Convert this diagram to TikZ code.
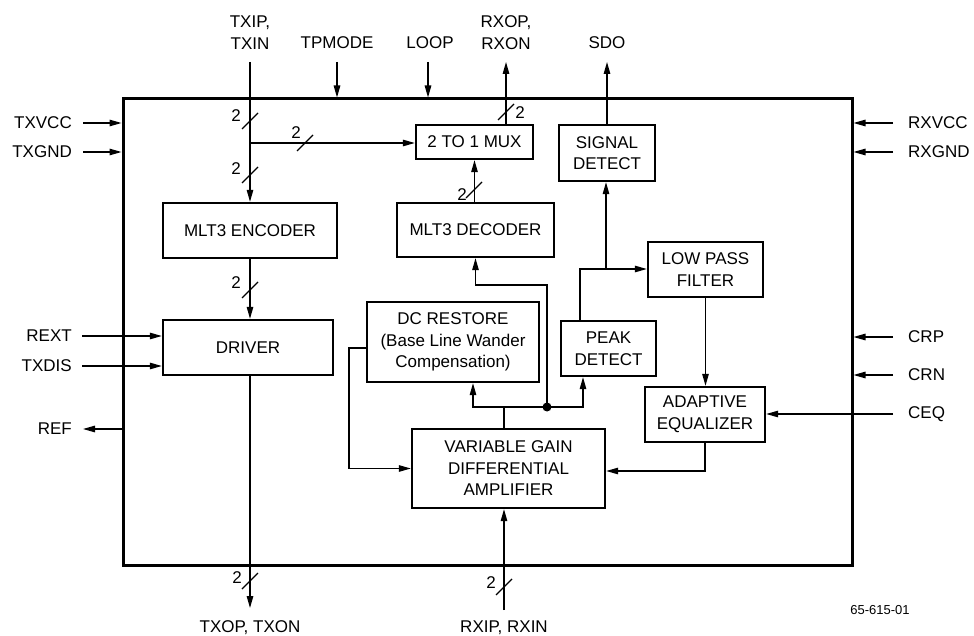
\documentclass[tikz,border=0pt]{standalone}
\usepackage{fontspec}
\setmainfont{Liberation Sans}
\usetikzlibrary{arrows.meta}
\begin{document}
\begin{tikzpicture}[x=1pt,y=-1pt,
  every node/.style={font=\fontsize{17}{21.5}\selectfont, inner sep=0pt, align=center},
  blk/.style n args={2}{draw, line width=2.4pt, minimum width=#1pt, minimum height=#2pt},
  conn/.style={line width=1.3pt},
  arr/.style={conn, -{Triangle[length=12pt,width=6.5pt]}},
  bus/.pic={\draw[line width=1.3pt] (-8,8) -- (8,-8);}
]
\useasboundingbox (0,0) rectangle (974,636);
% chip outline
\node[draw, line width=3pt, minimum width=729pt, minimum height=466pt] (chip) at (487.5,332) {};
% blocks
\node[blk={117}{34}] (mux) at (474.5,142) {2 TO 1 MUX};
\node[blk={174}{55}] (enc) at (250,230.5) {MLT3 ENCODER};
\node[blk={157}{54}] (dec) at (475.5,230) {MLT3 DECODER};
\node[blk={170}{55}] (drv) at (248,347.5) {DRIVER};
\node[blk={172}{80}] (dcr) at (453,342) {DC RESTORE\\(Base Line Wander\\Compensation)};
\node[blk={95}{55}] (peak) at (608.5,348.5) {PEAK\\DETECT};
\node[blk={96}{56}] (sig) at (607,153) {SIGNAL\\DETECT};
\node[blk={115}{55}] (lpf) at (705.5,269.5) {LOW PASS\\FILTER};
\node[blk={120}{55}] (aeq) at (705,414.5) {ADAPTIVE\\EQUALIZER};
\node[blk={193}{79}] (vga) at (508.5,468.5) {VARIABLE GAIN\\DIFFERENTIAL\\AMPLIFIER};
% top labels
\node (lTXI) at (250,32.5) {TXIP,\\TXIN};
\node (lTP) at (337,43) {TPMODE};
\node (lLP) at (430,43) {LOOP};
\node (lRXO) at (506,32.5) {RXOP,\\RXON};
\node (lSDO) at (607,43) {SDO};
\coordinate (pTXI) at (250,62);
\coordinate (pTP) at (337,62);
\coordinate (pLP) at (428,62);
\coordinate (pRXO) at (506,62);
\draw[arr] (pTXI) -- (enc.north);
\draw[arr] (pTP) -- (pTP |- chip.north);
\draw[arr] (pLP) -- (pLP |- chip.north);
\draw[arr] (pRXO |- mux.north) -- (pRXO);
\draw[arr] (sig.north) -- (sig.north |- pRXO);
% TX path
\coordinate (jTX) at (250,143);
\draw[arr] (jTX) -- (jTX -| mux.west);
\pic at (250,121) {bus}; \node (b1) at (236,116) {2};
\pic at (250,175) {bus}; \node (b2) at (236,169) {2};
\pic at (305,143) {bus}; \node (b3) at (296,133) {2};
\pic at (506,112) {bus}; \node (b4) at (520,113) {2};
\draw[arr] (mux.south |- dec.north) -- (mux.south);
\pic at (474,190) {bus}; \node (b5) at (462,195) {2};
\draw[arr] (enc.south) -- (enc.south |- drv.north);
\pic at (250,290) {bus}; \node (b6) at (236,283) {2};
\coordinate (pTXO) at (250,608);
\draw[arr] (pTXO |- drv.south) -- (pTXO);
\pic at (250,581) {bus}; \node (b7) at (237,578) {2};
\node (lTXO) at (250,628) {TXOP, TXON};
% RX input
\coordinate (pRXI) at (504,610);
\draw[arr] (pRXI) -- (pRXI |- vga.south);
\pic at (504,587) {bus}; \node (b8) at (491,583) {2};
\node (lRXI) at (504,628) {RXIP, RXIN};
% VGA output distribution
\coordinate (jV) at (504,407);
\coordinate (jL) at (473,407);
\coordinate (jR) at (583,407);
\coordinate (dot) at (547,407);
\coordinate (kD) at (547,285);
\draw[conn] (jV |- vga.north) -- (jV);
\draw[arr] (jV) -- (jL) -- (jL |- dcr.south);
\draw[arr] (jV) -- (jR) -- (jR |- peak.south);
\draw[arr] (dot) -- (kD) -- (kD -| dec.south) -- (dec.south);
\fill (dot) circle (4.5pt);
% DC restore feedback
\coordinate (kA) at (349,348);
\draw[arr] (kA -| dcr.west) -- (kA) -- (kA |- vga.west) -- (vga.west);
% peak detect
\coordinate (kP) at (580,269);
\coordinate (kS) at (606,269);
\draw[arr] (kP |- peak.north) -- (kP) -- (kP -| lpf.west);
\draw[arr] (kS) -- (kS |- sig.south);
% LPF -> AEQ -> VGA
\draw[arr] (lpf.south) -- (lpf.south |- aeq.north);
\coordinate (kE) at (705,471);
\draw[arr] (aeq.south |- aeq.south) -- (kE) -- (kE -| vga.east);
% left pins
\node[anchor=east] (lTXVCC) at (72,123) {TXVCC};
\node[anchor=east] (lTXGND) at (72,152) {TXGND};
\node[anchor=east] (lREXT) at (72,336) {REXT};
\node[anchor=east] (lTXDIS) at (72,366) {TXDIS};
\node[anchor=east] (lREF) at (72,429) {REF};
\coordinate (pTXVCC) at (83,123);
\coordinate (pTXGND) at (83,152);
\coordinate (pREXT) at (82,336);
\coordinate (pTXDIS) at (82,366);
\coordinate (pREF) at (83,429);
\draw[arr] (pTXVCC) -- (pTXVCC -| chip.west);
\draw[arr] (pTXGND) -- (pTXGND -| chip.west);
\draw[arr] (pREXT) -- (pREXT -| drv.west);
\draw[arr] (pTXDIS) -- (pTXDIS -| drv.west);
\draw[arr] (pREF -| chip.west) -- (pREF);
% right pins
\node[anchor=west] (lRXVCC) at (908,123) {RXVCC};
\node[anchor=west] (lRXGND) at (908,152) {RXGND};
\node[anchor=west] (lCRP) at (908,337) {CRP};
\node[anchor=west] (lCRN) at (908,375) {CRN};
\node[anchor=west] (lCEQ) at (908,414) {CEQ};
\coordinate (pRXVCC) at (893,123);
\coordinate (pRXGND) at (893,152);
\coordinate (pCRP) at (893,337);
\coordinate (pCRN) at (893,375);
\coordinate (pCEQ) at (893,414);
\draw[arr] (pRXVCC) -- (pRXVCC -| chip.east);
\draw[arr] (pRXGND) -- (pRXGND -| chip.east);
\draw[arr] (pCRP) -- (pCRP -| chip.east);
\draw[arr] (pCRN) -- (pCRN -| chip.east);
\draw[arr] (pCEQ) -- (pCEQ -| aeq.east);
% reference mark
\node[font=\fontsize{13}{16}\selectfont] (ref) at (880,610) {65-615-01};
\end{tikzpicture}
\end{document}
